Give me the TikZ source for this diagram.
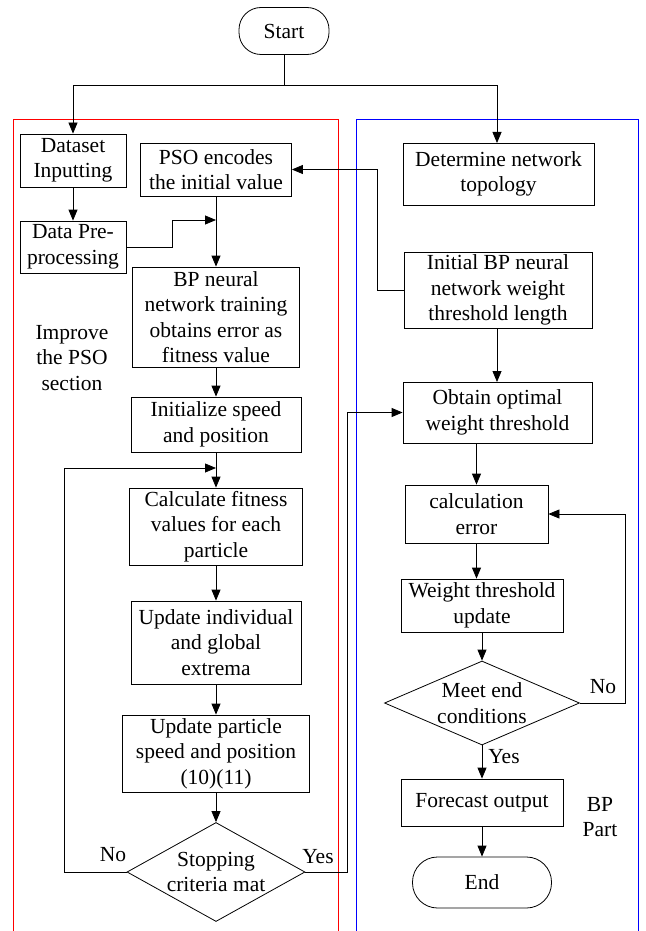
\documentclass[tikz,border=0pt]{standalone}
\usepackage{fontspec}
\setmainfont{Liberation Serif}
\usetikzlibrary{arrows.meta,shapes.geometric,calc}
\begin{document}
\begin{tikzpicture}[x=1pt,y=-1pt,
  every node/.style={font=\fontsize{21.5}{25.5}\selectfont, align=center, inner sep=0pt},
  box/.style={draw, line width=0.8pt, rectangle},
  term/.style={draw, line width=0.8pt, rectangle, rounded corners=22pt},
  dia/.style={draw, line width=0.8pt, diamond, inner sep=0pt},
  arr/.style={line width=0.8pt, -{Triangle[length=11pt,width=9pt]}},
  ln/.style={line width=0.8pt},
  lbl/.style={font=\fontsize{21.5}{25.5}\selectfont}]
\useasboundingbox (0,0) rectangle (645,931);
\fill[white] (0,0) rectangle (645,931);
% section frames
\draw[red, line width=0.8pt] (13,931) -- (13,119) -- (338,119) -- (338,931);
\draw[blue, line width=0.8pt] (356,931) -- (356,119) -- (638,119) -- (638,931);
% nodes
\node[term, minimum width=90, minimum height=47] (start) at (284,31) {Start};
\node[box, minimum width=106, minimum height=53] (ds) at (73,160.5) {Dataset\\Inputting};
\node[box, minimum width=106, minimum height=52] (dp) at (73,247) {Data Pre-\\processing};
\node[box, minimum width=151, minimum height=53] (pso) at (216,169.5) {PSO encodes\\the initial value};
\node[box, minimum width=167, minimum height=100] (bpn) at (216,317) {BP neural\\network training\\obtains error as\\fitness value};
\node[box, minimum width=170, minimum height=55] (init) at (216,424.5) {Initialize speed\\and position};
\node[box, minimum width=173, minimum height=77] (calc) at (216,526.5) {Calculate fitness\\values for each\\particle};
\node[box, minimum width=170, minimum height=83] (upd) at (216,642.5) {Update individual\\and global\\extrema};
\node[box, minimum width=187, minimum height=77] (upp) at (216,753.5) {Update particle\\speed and position\\(10)(11)};
\node[dia, minimum width=178, minimum height=99] (stop) at (216,872) {};
\node at (stop) {Stopping\\criteria mat};
\node[box, minimum width=191, minimum height=62] (det) at (498.5,174) {Determine network\\topology};
\node[box, minimum width=188, minimum height=76] (ibp) at (498,290) {Initial BP neural\\network weight\\threshold length};
\node[box, minimum width=189, minimum height=61] (obt) at (497.5,412.5) {Obtain optimal\\weight threshold};
\node[box, minimum width=143, minimum height=58] (cerr) at (476.5,514) {calculation\\error};
\node[box, minimum width=162, minimum height=53] (wtu) at (482,605.5) {Weight threshold\\update};
\node[dia, minimum width=195, minimum height=84] (meet) at (482,703) {};
\node at (meet) {Meet end\\conditions};
\node[box, minimum width=162, minimum height=47] (fo) at (482,802.5) {Forecast output};
\node[term, minimum width=139, minimum height=51, rounded corners=25pt] (end) at (482,882.5) {End};
% labels
\node[lbl] (impr) at (72,358) {Improve\\the PSO\\section};
\node[lbl] (bpp) at (600,817) {BP\\Part};
\node[lbl] (no1) at (113,855) {No};
\node[lbl] (yes1) at (318,857) {Yes};
\node[lbl] (no2) at (603,687) {No};
\node[lbl] (yes2) at (504,757) {Yes};
% connectors
\coordinate (j) at (284,85);
\draw[ln] (start.south) -- (j);
\draw[arr] (j) -| (ds.north);
\draw[arr] (j) -| (497,143);
\draw[arr] (ds.south) -- (dp.north);
\coordinate (m1) at (216,220);
\draw[arr] (dp.east) -- ++(46,0) |- (m1);
\draw[arr] (pso.south) -- (bpn.north);
\draw[arr] (bpn.south) -- (init.north);
\draw[arr] (init.south) -- (calc.north);
\draw[arr] (calc.south) -- (upd.north);
\draw[arr] (upd.south) -- (upp.north);
\draw[arr] (upp.south) -- (stop.north);
\coordinate (m2) at (216,468);
\draw[arr] (stop.west) -- (64,872) |- (m2);
\draw[arr] (stop.east) -- (347,872) |- (obt.west);
\draw[arr] (ibp.west) -- (377,290) |- (pso.east);
\draw[arr] (497,328) -- (497,382);
\draw[arr] (cerr.north |- obt.south) -- (cerr.north);
\draw[arr] (cerr.south) -- (cerr.south |- wtu.north);
\draw[arr] (wtu.south) -- (meet.north);
\draw[arr] (meet.south) -- (fo.north);
\draw[arr] (fo.south) -- (end.north);
\draw[arr] (meet.east) -- (625,703) |- (cerr.east);
\end{tikzpicture}
\end{document}
